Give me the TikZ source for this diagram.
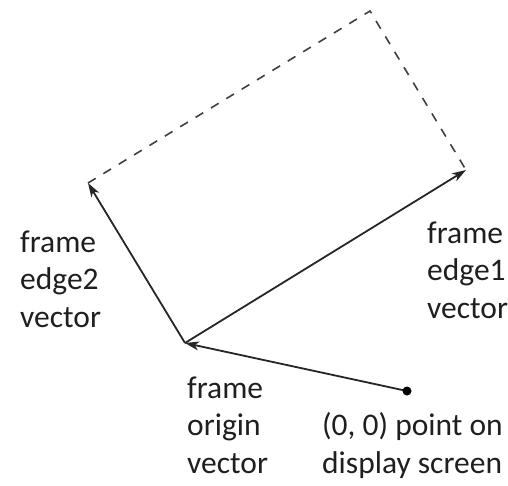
\documentclass[tikz,border=0pt]{standalone}
\usepackage{fontspec}
\setmainfont{Carlito}
\usetikzlibrary{arrows.meta}
\begin{document}
\begin{tikzpicture}[x=1pt,y=-1pt,
  vec/.style={line width=1.8pt,draw=black!85,-{Stealth[length=14pt,width=9pt,inset=4pt]}},
  dashline/.style={line width=1.6pt,draw=black!75,dash pattern=on 9pt off 9pt},
  lbl/.style={align=left,inner sep=0pt,font=\fontsize{31.5}{37.5}\selectfont,text=black!88}]
\useasboundingbox (0,0) rectangle (508,485);
\coordinate (O) at (185,343);
\coordinate (E1) at (466,170);
\coordinate (E2) at (88,183);
\coordinate (T) at (370,11);
\coordinate (P) at (407,391);
\draw[dashline] (E2) -- (T) -- (E1);
\draw[vec] (O) -- (E1);
\draw[vec] (O) -- (E2);
\draw[vec] (P) -- (O);
\fill[black] (P) circle (4.5pt);
\node[lbl,anchor=base west] (l2) at (20,327) {frame\\edge2\\vector};
\node[lbl,anchor=base west] (l1) at (427,318) {frame\\edge1\\vector};
\node[lbl,anchor=base west] (lo) at (187,473) {frame\\origin\\vector};
\node[lbl,anchor=base west] (lp) at (322,473) {(0, 0) point on\\display screen};
\end{tikzpicture}
\end{document}
